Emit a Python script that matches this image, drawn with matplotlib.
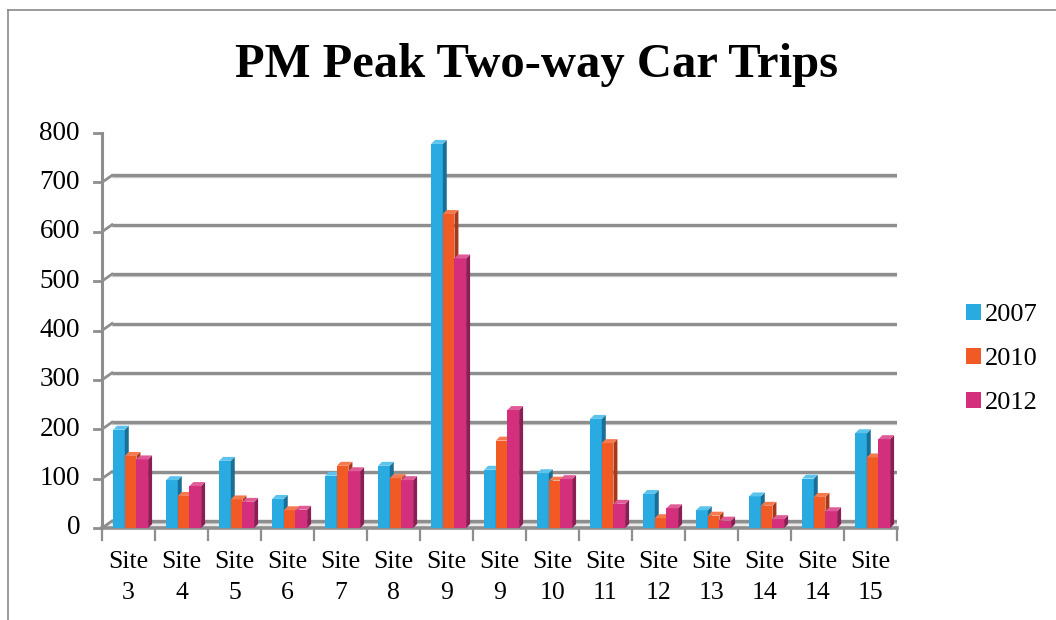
import matplotlib
matplotlib.use('Agg')
import matplotlib.pyplot as plt
from matplotlib.patches import Polygon, Patch
from matplotlib.lines import Line2D
from matplotlib.transforms import ScaledTranslation
import numpy as np

# Datos
sites = ['Site\n3', 'Site\n4', 'Site\n5', 'Site\n6', 'Site\n7', 'Site\n8', 'Site\n9', 'Site\n9',
         'Site\n10', 'Site\n11', 'Site\n12', 'Site\n13', 'Site\n14', 'Site\n14', 'Site\n15']
trips_2007 = [199, 97, 136, 59, 106, 126, 778, 118, 111, 221, 69, 36, 64, 100, 192]
trips_2010 = [146, 65, 58, 36, 126, 101, 636, 177, 96, 172, 20, 25, 45, 63, 143]
trips_2012 = [139, 85, 53, 37, 115, 97, 546, 239, 99, 49, 40, 15, 18, 34, 180]
years = ['2007', '2010', '2012']
y_ticks = list(range(0, 801, 100))

front_colors = ['#29abe2', '#f15a24', '#d42f7c']
side_colors = ['#1b6f96', '#a8381a', '#8c1e55']
top_colors = ['#5cc3ec', '#f57a4e', '#e05c98']
grid_color = '#8e8e8e'

W, H = 1056, 620
fig = plt.figure(figsize=(W / 100, H / 100), dpi=100)
plt.rcParams['font.family'] = ['Liberation Serif', 'DejaVu Serif']

# marco exterior (lado izquierdo y superior)
fig.add_artist(Line2D([8 / W, 8 / W], [0, 1 - 10 / H], color='#8a8a8a', lw=1.2))
fig.add_artist(Line2D([8 / W, 1], [1 - 10 / H, 1 - 10 / H], color='#8a8a8a', lw=1.2))

left, right = 102, 897
y0, y800 = 528, 133
ax = fig.add_axes([left / W, 1 - y0 / H, (right - left) / W, (y0 - y800) / H])
ax.set_xlim(-0.5, len(sites) - 0.5)
ax.set_ylim(0, 800)
for s in ax.spines.values():
    s.set_visible(False)
ax.set_xticks([])
ax.set_yticks([])

# desplazamiento de la pared del fondo (efecto 3D)
back = ax.transData + ScaledTranslation(10 / 100, 7 / 100, fig.dpi_scale_trans)
xs = np.arange(len(sites))
x_lo, x_hi = -0.5, len(sites) - 0.5

for v in y_ticks:
    ax.plot([x_lo, x_hi], [v, v], transform=back, color=grid_color, lw=2.4,
            solid_capstyle='butt', zorder=1)
    ax.plot([x_lo, x_hi], [v, v], transform=back + ScaledTranslation(0, -1.5 / 100, fig.dpi_scale_trans),
            color='#d0d0d0', lw=1.0, zorder=0.9)

# diagonales del eje y y piso
for v in y_ticks:
    p0 = ax.transData.transform((x_lo, v))
    p1 = back.transform((x_lo, v))
    ax.add_line(Line2D([p0[0], p1[0]], [p0[1], p1[1]], transform=None, color=grid_color, lw=2.0, zorder=1))
pf = ax.transData.transform((x_hi, 0))
pb = back.transform((x_hi, 0))
ax.add_line(Line2D([pf[0], pb[0]], [pf[1], pb[1]], transform=None, color=grid_color, lw=2.4, zorder=1))
pb0 = back.transform((x_lo, 0))
floor = Polygon([ax.transData.transform((x_lo, 0)), pf, pb, pb0], closed=True, transform=None,
                facecolor='#ededed', edgecolor='none', zorder=0.8)
ax.add_patch(floor)

# eje y frontal con marcas
ax.plot([x_lo, x_lo], [0, 800], color=grid_color, lw=2.2, zorder=1, clip_on=False)
ax.plot([x_lo, x_hi], [0, 0], color=grid_color, lw=2.6, zorder=1, clip_on=False)
for v in y_ticks:
    p = ax.transData.transform((x_lo, v))
    ax.add_line(Line2D([p[0] - 8, p[0]], [p[1], p[1]], transform=None, color=grid_color, lw=2.0, clip_on=False))
    ax.text(p[0] - 22, p[1], str(v), transform=None, ha='right', va='center', fontsize=19.5)
for i in range(len(sites) + 1):
    p = ax.transData.transform((x_lo + i, 0))
    ax.add_line(Line2D([p[0], p[0]], [p[1], p[1] - 12], transform=None, color=grid_color, lw=1.6, clip_on=False))
for i, lab in enumerate(sites):
    ax.text(i, -0.058, lab, transform=ax.get_xaxis_transform(), ha='center', va='top',
            fontsize=18.5, linespacing=1.55)

# barras con caras laterales y superiores
bw = 0.22
dxd = 0.075
dyd = 8
series = [trips_2007, trips_2010, trips_2012]
for k, vals in enumerate(series):
    pos = xs + (k - 1) * bw + 0.04
    ax.bar(pos, vals, width=bw, color=front_colors[k], zorder=3 + k * 0.1, linewidth=0)
    for x, h in zip(pos, vals):
        r = x + bw / 2
        l = x - bw / 2
        side = Polygon([(r, 0), (r + dxd, dyd), (r + dxd, h + dyd), (r, h)], closed=True,
                       facecolor=side_colors[k], edgecolor='none', zorder=3 + k * 0.1)
        top = Polygon([(l, h), (l + dxd, h + dyd), (r + dxd, h + dyd), (r, h)], closed=True,
                      facecolor=top_colors[k], edgecolor='none', zorder=3 + k * 0.1)
        ax.add_patch(side)
        ax.add_patch(top)

fig.text(537 / W, 1 - 77 / H, 'PM Peak Two-way Car Trips', ha='center', va='baseline',
         fontsize=35, fontweight='bold')

handles = [Patch(facecolor=c, edgecolor='none') for c in front_colors]
fig.legend(handles, years, loc='center left', bbox_to_anchor=(953 / W, 1 - 359 / H),
           frameon=False, fontsize=19, handlelength=0.55, handleheight=0.55,
           handletextpad=0.15, labelspacing=0.82, borderpad=0)

fig.savefig('out.png', dpi=100)
